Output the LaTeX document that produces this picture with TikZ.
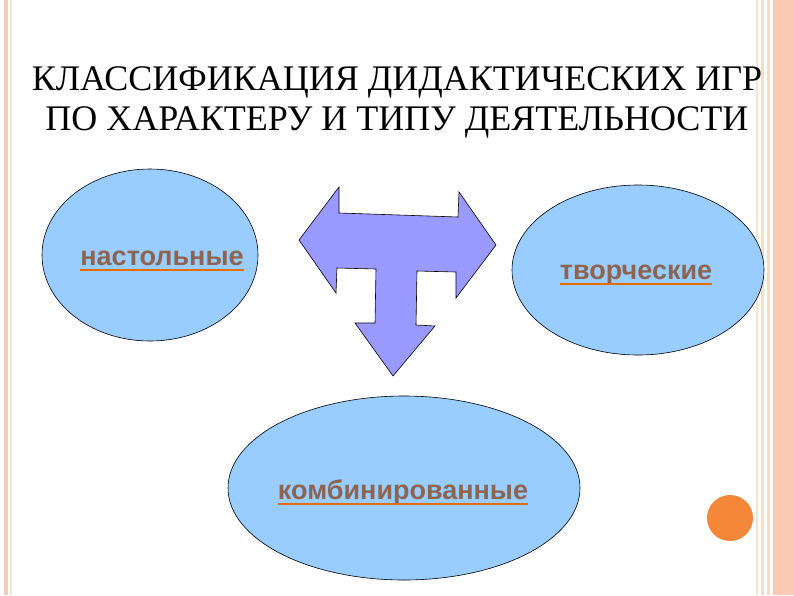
\documentclass[tikz,border=0pt]{standalone}
\usepackage{fontspec}
\setmainfont{Liberation Serif}
\newfontfamily\arialf{Liberation Sans}
\definecolor{ellfill}{HTML}{99CCFF}
\definecolor{arrfill}{HTML}{9999FF}
\definecolor{salmon}{HTML}{FACAB4}
\definecolor{pale}{HTML}{F6E3D6}
\definecolor{labtxt}{HTML}{8C6450}
\definecolor{uline}{HTML}{E46C0A}
\definecolor{dotc}{HTML}{F5873A}
\tikzset{
  oval/.style={draw=black, line width=0.6pt, fill=ellfill},
  lab/.style={font=\arialf\bfseries\fontsize{27}{30}\selectfont, text=labtxt, inner sep=0pt},
  ttl/.style={font=\fontsize{36}{40}\selectfont, align=center, inner sep=0pt}
}
\newcommand{\ul}[2]{\draw[uline, line width=1.8pt] ([yshift=-5pt]#1.base west) -- ([yshift=-5pt]#1.base east);}
\begin{document}
\begin{tikzpicture}[x=1pt,y=-1pt]
\useasboundingbox (0,0) rectangle (794,595);
\fill[white] (0,0) rectangle (794,595);
% borders
\fill[salmon] (4,0) rectangle (8,595);
\fill[pale] (10,0) rectangle (12,595);
\fill[pale] (756,0) rectangle (758,595);
\fill[salmon!70] (761,0) rectangle (764,595);
\fill[salmon!70] (767,0) rectangle (770,595);
\fill[salmon] (773,0) rectangle (794,595);
% title
\node[ttl] (title) at (397,102) {КЛАССИФИКАЦИЯ ДИДАКТИЧЕСКИХ ИГР\\ПО ХАРАКТЕРУ И ТИПУ ДЕЯТЕЛЬНОСТИ};
% ellipses
\draw[oval] (150,255) ellipse [x radius=108, y radius=86];
\draw[oval] (638,270) ellipse [x radius=126, y radius=85];
\draw[oval] (404,488) ellipse [x radius=176, y radius=92];
% arrow
\draw[fill=arrfill, draw=black, line width=0.6pt, line join=miter]
 (299,240) -- (339,187) -- (339,213) -- (458,217) -- (459,192) -- (496,245)
 -- (456,298) -- (456,272) -- (417,271) -- (416,325) -- (435,326) -- (393,376)
 -- (355,323) -- (375,323) -- (376,269) -- (337,268) -- (336,293) -- cycle;
% labels
\node[lab, anchor=base] (l1) at (162,265) {настольные};
\node[lab, anchor=base] (l2) at (636,279) {творческие};
\node[lab, anchor=base] (l3) at (403,499) {комбинированные};
\ul{l1}{}\ul{l2}{}\ul{l3}{}
% dot
\fill[dotc] (730,518) circle [radius=23];
\end{tikzpicture}
\end{document}
